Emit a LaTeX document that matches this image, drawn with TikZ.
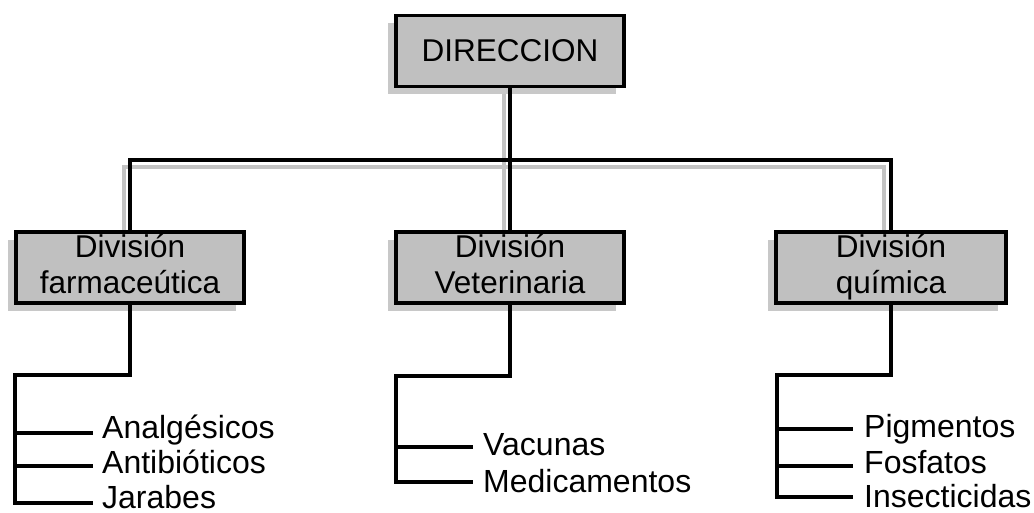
\documentclass[tikz,border=0pt]{standalone}
\usepackage{fontspec}
\setmainfont{Liberation Sans}
\usetikzlibrary{shadows,backgrounds}
\definecolor{boxgray}{RGB}{192,192,192}
\definecolor{shadowgray}{RGB}{200,200,200}
\definecolor{linegray}{RGB}{195,195,195}
\newcommand{\topstrut}{\rule{0pt}{26pt}}
\newcommand{\botstrut}{\rule[-9pt]{0pt}{9pt}}
\begin{document}
\begin{tikzpicture}[x=1pt,y=-1pt,
  box/.style={draw=black, line width=3.6pt, fill=boxgray, minimum width=228pt,
    minimum height=71pt, inner sep=0pt, align=center,
    font=\fontsize{31.5}{36}\selectfont,
    drop shadow={shadow xshift=-8pt, shadow yshift=-8pt, fill=shadowgray, opacity=1}},
  leaf/.style={anchor=base west, inner sep=0pt, font=\fontsize{32}{36}\selectfont},
  conn/.style={draw=black, line width=3.6pt},
  ghost/.style={draw=linegray, line width=3.4pt}]
\useasboundingbox (0,0) rectangle (1034,513);

% boxes
\node[box] (dir)  at (510,51)    {DIRECCION};
\node[box] (farm) at (130,267.5) {\topstrut División\\farmaceútica\botstrut};
\node[box] (vet)  at (510,267.5) {\topstrut División\\Veterinaria\botstrut};
\node[box, minimum width=230pt] (quim) at (891,267.5) {\topstrut División\\química\botstrut};

% bus coordinates
\coordinate (busL)  at (130,160);
\coordinate (busR)  at (891,160);
\coordinate (gbusL) at (124,167);
\coordinate (gbusR) at (884,167);

% gray shadow connectors
\begin{scope}[on background layer]
  \draw[ghost] ([xshift=-6pt]dir.south) -- ([xshift=-6pt]vet.north);
  \draw[ghost] (gbusL |- farm.north) -- (gbusL) -- (gbusR) -- (gbusR |- quim.north);
\end{scope}

% black upper connectors
\draw[conn] (dir.south) -- (vet.north);
\draw[conn] (farm.north) -- (busL) -- (busR) -- (quim.north);

% leaves: farmaceutica
\coordinate (fk)  at (15,375);
\coordinate (fe1) at (93,433);
\coordinate (fe2) at (93,466);
\coordinate (fe3) at (93,503);
\draw[conn] (farm.south) |- (fk) |- (fe3);
\draw[conn] (fk |- fe1) -- (fe1);
\draw[conn] (fk |- fe2) -- (fe2);
\node[leaf] (f1) at (102,438) {Analgésicos};
\node[leaf] (f2) at (102,473) {Antibióticos};
\node[leaf] (f3) at (102,508) {Jarabes};

% leaves: veterinaria
\coordinate (vk)  at (396,376);
\coordinate (ve1) at (473,447);
\coordinate (ve2) at (473,482);
\draw[conn] (vet.south) |- (vk) |- (ve2);
\draw[conn] (vk |- ve1) -- (ve1);
\node[leaf] (v1) at (483,455) {Vacunas};
\node[leaf] (v2) at (483,492) {Medicamentos};

% leaves: quimica
\coordinate (qk)  at (777,375);
\coordinate (qe1) at (853,429);
\coordinate (qe2) at (853,466);
\coordinate (qe3) at (853,497);
\draw[conn] (quim.south) |- (qk) |- (qe3);
\draw[conn] (qk |- qe1) -- (qe1);
\draw[conn] (qk |- qe2) -- (qe2);
\node[leaf] (q1) at (864,437) {Pigmentos};
\node[leaf] (q2) at (864,473) {Fosfatos};
\node[leaf] (q3) at (864,507.5) {Insecticidas};
\end{tikzpicture}
\end{document}
